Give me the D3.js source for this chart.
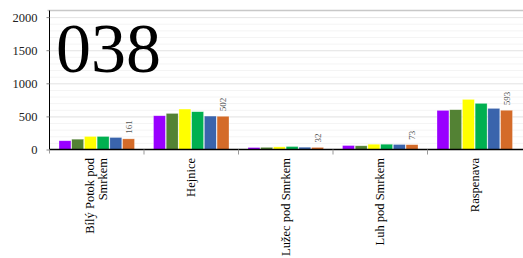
<!DOCTYPE html>
<html lang="cs">
<head>
<meta charset="UTF-8">
<title>038</title>
<script src="https://cdn.jsdelivr.net/npm/d3@7"></script>
<style>
  body { margin: 0; background: #fff; }
  .grid line { stroke: #e6e6e6; }
  .grid.minor line { stroke: #f4f4f4; }
  .grid .domain { display: none; }
</style>
</head>
<body>
<script>
// data
var categories = ["Bílý Potok pod Smrkem", "Hejnice", "Lužec pod Smrkem", "Luh pod Smrkem", "Raspenava"];
var series = ["s1", "s2", "s3", "s4", "s5", "s6"];
var colors = ["#9900ff", "#538234", "#ffff00", "#00b050", "#3a64ac", "#d46b29"];
var values = [
  [132, 156, 197, 197, 182, 161],
  [510, 545, 611, 571, 505, 502],
  [30, 33, 40, 45, 35, 32],
  [60, 56, 80, 80, 76, 73],
  [591, 601, 757, 697, 621, 593]
];
var yTicks = [0, 500, 1000, 1500, 2000];
var title = "038";

var serif = "Liberation Serif";
var W = 523, H = 258;
var mLeft = 49.5, mTop = 10.5, mBottom = 149.5, mRight = 522;

var svg = d3.select("body").append("svg").attr("width", W).attr("height", H);

var y = d3.scaleLinear().domain([0, 2100]).range([mBottom, mTop]);
var x0 = d3.scaleBand().domain(categories).range([mLeft, mRight]);
var x1 = d3.scaleBand().domain(series).range([9.5, x0.bandwidth() - 9.5]).paddingInner(0.06);

// minor + major grid
svg.append("g").attr("class", "grid minor")
  .attr("transform", "translate(" + mLeft + ",0)")
  .call(d3.axisLeft(y).tickValues(d3.range(100, 2100, 100)).tickSize(-(W - mLeft)).tickFormat(""));
svg.append("g").attr("class", "grid")
  .attr("transform", "translate(" + mLeft + ",0)")
  .call(d3.axisLeft(y).tickValues(yTicks.slice(1)).tickSize(-(W - mLeft)).tickFormat(""));

// top border
svg.append("line").attr("x1", mLeft - 2).attr("x2", W).attr("y1", y(2100)).attr("y2", y(2100))
  .attr("stroke", "#c8c8c8").attr("stroke-width", 1.5);

// title
svg.append("text").attr("x", 56).attr("y", 72).attr("font-size", 70)
  .attr("font-family", serif).attr("fill", "#000").text(title);

// bars
var groups = svg.append("g").selectAll("g").data(categories).enter().append("g")
  .attr("transform", function(d) { return "translate(" + x0(d) + ",0)"; });

groups.selectAll("rect")
  .data(function(d, i) { return values[i].map(function(v, j) { return { s: series[j], v: v, c: colors[j] }; }); })
  .enter().append("rect")
    .attr("x", function(d) { return x1(d.s); })
    .attr("y", function(d) { return y(d.v); })
    .attr("width", x1.bandwidth())
    .attr("height", function(d) { return mBottom - y(d.v); })
    .attr("fill", function(d) { return d.c; })
    .attr("stroke", "rgba(255,255,255,0.5)")
    .attr("stroke-width", 0.6);

// value label on last bar
groups.append("text")
  .attr("font-size", 9).attr("fill", "#555").attr("font-family", serif)
  .attr("transform", function(d, i) {
    var v = values[i][5];
    return "translate(" + (x1("s6") + x1.bandwidth() / 2 + 3) + "," + (y(v) - 5) + ") rotate(-90)";
  })
  .text(function(d, i) { return values[i][5]; });

// y axis
var ya = svg.append("g").attr("transform", "translate(" + mLeft + ",0)")
  .call(d3.axisLeft(y).tickValues(yTicks).tickSize(3).tickPadding(9).tickFormat(d3.format("d")));
ya.attr("font-family", serif).attr("font-size", 12.5);
ya.select(".domain").attr("d", "M0," + mTop + "V" + mBottom).attr("stroke", "#000");
ya.selectAll(".tick line").attr("stroke", "#888");
ya.selectAll("text").attr("fill", "#222").attr("font-family", serif);

// x axis
var xa = svg.append("g").attr("transform", "translate(0," + mBottom + ")");
xa.append("line").attr("x1", mLeft).attr("x2", W).attr("stroke", "#000").attr("stroke-width", 1.5);
xa.selectAll(".xt").data(categories.slice(1)).enter().append("line")
  .attr("x1", function(d) { return x0(d); }).attr("x2", function(d) { return x0(d); })
  .attr("y1", 0).attr("y2", 5).attr("stroke", "#999");
xa.append("line").attr("x1", mLeft).attr("x2", mLeft).attr("y1", 0).attr("y2", 4).attr("stroke", "#999");

// x labels, rotated, wrapped
var wraps = { "Bílý Potok pod Smrkem": ["Bílý Potok pod", "Smrkem"] };
xa.selectAll(".xl").data(categories).enter().append("text")
  .attr("class", "xl")
  .attr("font-size", 12.5)
  .attr("font-family", serif)
  .attr("text-anchor", "end")
  .attr("fill", "#000")
  .attr("transform", function(d) {
    var lines = wraps[d] || [d];
    var cx = x0(d) + x0.bandwidth() / 2 - (lines.length - 1) * 6.5 + 4;
    return "translate(" + cx + ",8.5) rotate(-90)";
  })
  .each(function(d) {
    var lines = wraps[d] || [d];
    var t = d3.select(this);
    lines.forEach(function(l, i) {
      t.append("tspan").attr("x", 0).attr("dy", i === 0 ? 0 : 13).text(l);
    });
  });
</script>
</body>
</html>
